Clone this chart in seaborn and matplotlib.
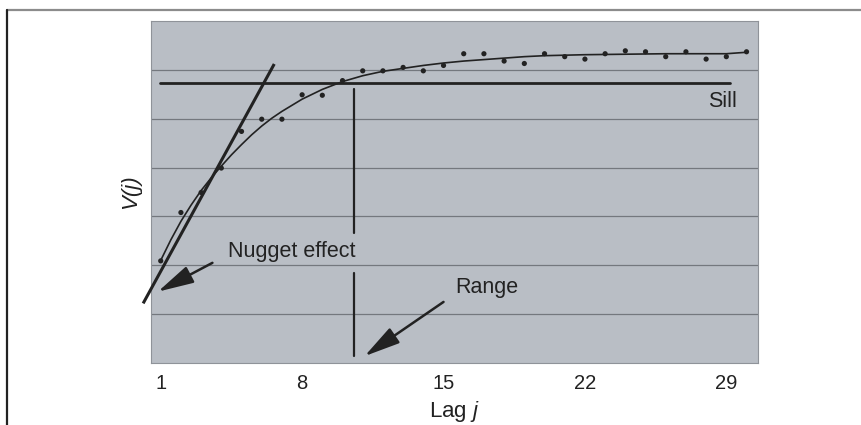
import numpy as np
import pandas as pd
from matplotlib import pyplot as plt
from matplotlib.lines import Line2D
import seaborn as sns

# observed semivariogram points V(j), lag j = 1..30
lag = list(range(1, 31))
v_obs = [2.09, 3.08, 3.49, 3.99, 4.74, 4.99, 4.99, 5.49, 5.48, 5.78,
         5.98, 5.98, 6.05, 5.98, 6.09, 6.33, 6.33, 6.18, 6.13, 6.33,
         6.27, 6.22, 6.33, 6.39, 6.37, 6.27, 6.37, 6.22, 6.27, 6.37]
# fitted model curve
fit_lag = [1, 1.5, 2, 2.5, 3, 3.5, 4, 4.5, 5, 5.5, 6, 6.5, 7, 8, 9, 10,
           11, 12, 13, 14, 15, 16, 17, 18, 19, 20, 22, 24, 26, 28, 29, 30]
v_fit = [2.10, 2.52, 2.90, 3.23, 3.53, 3.79, 4.03, 4.26, 4.47, 4.67, 4.85,
         5.01, 5.15, 5.40, 5.60, 5.76, 5.88, 5.97, 6.03, 6.09, 6.14, 6.18,
         6.21, 6.24, 6.27, 6.29, 6.31, 6.32, 6.33, 6.33, 6.33, 6.36]
x_ticks = [1, 8, 15, 22, 29]

sill = 5.73
sill_span = [0.98, 29.2]
range_lag = 10.58
range_segments = [(5.61, 2.67), (1.84, 0.14)]
tangent_x = [0.13, 6.62]
tangent_y = [1.22, 6.12]

obs = pd.DataFrame({"lag": lag, "v": v_obs})
fit = pd.DataFrame({"lag": fit_lag, "v": v_fit})

sns.set_style("white")
plt.rcParams["font.family"] = ["Liberation Sans", "DejaVu Sans"]
plt.rcParams["mathtext.fontset"] = "custom"
plt.rcParams["mathtext.it"] = "Liberation Sans:italic"
plt.rcParams["mathtext.rm"] = "Liberation Sans"

ink = "#222222"
fig = plt.figure(figsize=(8.62, 4.25), dpi=100)
ax = fig.add_axes([0.1752, 0.1459, 0.7042, 0.8047])
ax.set_facecolor("#b9bec5")

# page frame (top and left rule)
fig.add_artist(Line2D([0.008, 1.0], [0.9753, 0.9753], color="#8c8c8c", lw=1.6,
                      transform=fig.transFigure))
fig.add_artist(Line2D([0.0081, 0.0081], [0.0, 0.9753], color=ink, lw=1.6,
                      transform=fig.transFigure))

for g in range(1, 7):
    ax.axhline(g, color="#74787e", lw=0.9, zorder=1)

sns.lineplot(data=fit, x="lag", y="v", ax=ax, color=ink, lw=1.2, zorder=3)
sns.scatterplot(data=obs, x="lag", y="v", ax=ax, color=ink, s=14,
                edgecolor="none", zorder=4)

ax.plot(sill_span, [sill, sill], color=ink, lw=2.0, zorder=3)
ax.plot(tangent_x, tangent_y, color=ink, lw=2.2, zorder=3, clip_on=False,
        solid_capstyle="butt")
for top, bot in range_segments:
    ax.plot([range_lag, range_lag], [top, bot], color=ink, lw=1.6, zorder=3)

arrow = dict(arrowstyle="-|>,head_length=2.2,head_width=0.55",
             mutation_scale=10, color=ink, lw=1.8, shrinkA=0, shrinkB=0)
ax.annotate("", xy=(0.86, 1.46), xytext=(3.56, 2.05), arrowprops=arrow)
ax.annotate("", xy=(11.09, 0.14), xytext=(15.0, 1.25), arrowprops=arrow)

ax.text(4.34, 2.16, "Nugget effect", fontsize=15.5, color=ink, va="baseline")
ax.text(15.58, 1.43, "Range", fontsize=15.5, color=ink, va="baseline")
ax.text(28.1, 5.23, "Sill", fontsize=15.5, color=ink, va="baseline")

ax.set_xlim(0.52, 30.57)
ax.set_ylim(0, 7)
ax.set_xticks(x_ticks)
ax.set_xticklabels([str(t) for t in x_ticks], fontsize=14.5, color=ink)
ax.set_yticks([])
ax.tick_params(axis="x", length=0, pad=8)
ax.set_xlabel(r"Lag $\mathit{j}$", fontsize=16, color=ink, labelpad=4)
ax.set_ylabel("V(j)", fontsize=16, color=ink, labelpad=7, fontstyle="italic")
for s in ax.spines.values():
    s.set_color("#8f9399")
    s.set_linewidth(0.8)

fig.savefig("out.png", dpi=100)
